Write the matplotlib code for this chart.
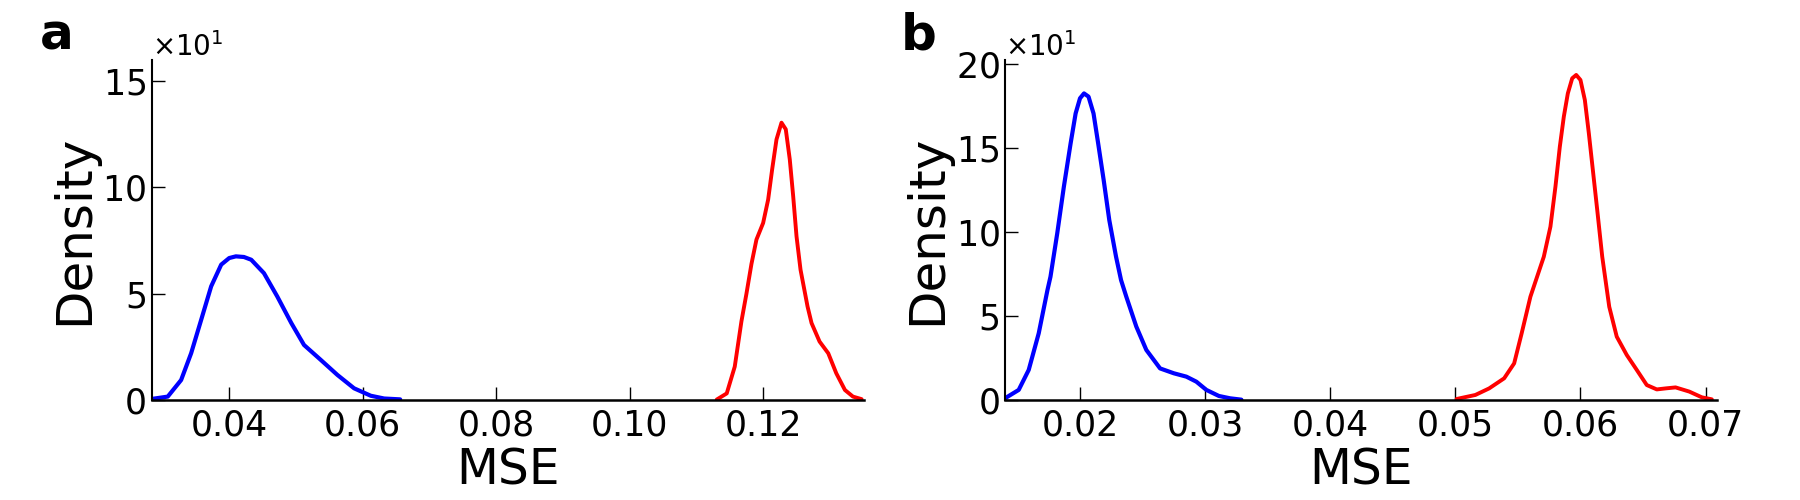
import matplotlib
matplotlib.use("Agg")
import matplotlib.pyplot as plt

a_blue_x = [0.0284, 0.0308, 0.0328, 0.0343, 0.0358, 0.0373, 0.0388, 0.0400, 0.0410,
            0.0422, 0.0433, 0.0452, 0.0472, 0.0493, 0.0512, 0.0537, 0.0562, 0.0587,
            0.0612, 0.0632, 0.0656]
a_blue_y = [0.5, 1.6, 9.4, 22.0, 37.7, 53.5, 63.7, 66.8, 67.6,
            67.3, 66.0, 59.7, 48.7, 36.2, 25.9, 18.9, 11.8, 5.5,
            2.0, 0.7, 0.3]
a_red_x = [0.1130, 0.1145, 0.1157, 0.1167, 0.11745, 0.1182, 0.11895, 0.11995, 0.1207,
           0.1213, 0.12195, 0.1227, 0.12334, 0.12394, 0.12445, 0.12495, 0.12555, 0.1266,
           0.1272, 0.1284, 0.1297, 0.1309, 0.1322, 0.1334, 0.1347]
a_red_y = [0.2, 3.1, 15.7, 37.0, 50.0, 64.0, 75.5, 83.3, 94.3,
           108.5, 122.6, 130.5, 127.4, 113.2, 95.9, 77.0, 61.3, 44.0,
           36.2, 27.5, 22.0, 12.6, 4.7, 1.6, 0.4]

# panel b
b_blue_x = [0.0140, 0.0151, 0.0159, 0.0167, 0.0174, 0.01764, 0.01818, 0.01871, 0.01925,
            0.01965, 0.0200, 0.02032, 0.02068, 0.02108, 0.02145, 0.02189, 0.02234, 0.02288,
            0.02328, 0.0237, 0.0245, 0.0253, 0.0264, 0.0275, 0.0285, 0.0293, 0.0301,
            0.0311, 0.0320, 0.0329]
b_blue_y = [1.0, 6.0, 17.9, 39.7, 65.5, 73.4, 99.2, 127.0, 152.8,
            170.6, 179.6, 182.5, 180.6, 170.6, 152.8, 131.0, 107.1, 85.3,
            71.4, 61.5, 43.7, 29.8, 18.8, 15.9, 13.9, 10.9, 6.0,
            2.4, 1.0, 0.2]
b_red_x = [0.0501, 0.0516, 0.0527, 0.0539, 0.0547, 0.0553, 0.0560, 0.0568, 0.05707,
           0.05760, 0.0580, 0.05835, 0.05867, 0.05899, 0.05934, 0.05966, 0.0600, 0.06035,
           0.06067, 0.06099, 0.06134, 0.06174, 0.0623, 0.0629, 0.0637, 0.0645, 0.0653,
           0.0661, 0.0668, 0.0676, 0.0687, 0.0697, 0.0705]
b_red_y = [0.6, 3.0, 6.9, 12.9, 21.8, 39.7, 61.5, 79.3, 85.3,
           103.2, 127.0, 150.8, 168.7, 182.5, 191.5, 193.5, 190.5, 178.6,
           158.7, 136.9, 113.1, 85.3, 55.5, 37.7, 26.8, 17.9, 8.9,
           6.3, 6.9, 7.5, 5.0, 1.6, 0.4]

panels = [
    ("a", a_blue_x, a_blue_y, a_red_x, a_red_y, (0.0284, 0.1350), 160,
     [0, 50, 100, 150],
     [0.04, 0.06, 0.08, 0.10, 0.12], ["0.04", "0.06", "0.08", "0.10", "0.12"]),
    ("b", b_blue_x, b_blue_y, b_red_x, b_red_y, (0.0140, 0.0709), 202.4,
     [0, 50, 100, 150, 200],
     [0.02, 0.03, 0.04, 0.05, 0.06, 0.07], ["0.02", "0.03", "0.04", "0.05", "0.06", "0.07"]),
]

plt.rcParams['font.family'] = ['DejaVu Sans']
fig = plt.figure(figsize=(18, 5), dpi=100)

lefts = [0.0843, 0.5583]
tag_x = [0.022, 0.5006]
for left, tx, (tag, bx, by, rx, ry, xlim, ymax, yt, xt, xtl) in zip(lefts, tag_x, panels):
    ax = fig.add_axes([left, 0.2, 0.3955, 0.68])
    ax.plot(bx, by, color="blue", lw=3, solid_capstyle="round")
    ax.plot(rx, ry, color="red", lw=2.8, solid_capstyle="round")
    ax.set_xlim(*xlim)
    ax.set_ylim(0, ymax)
    ax.set_xticks(xt)
    ax.set_xticklabels(xtl)
    ax.set_yticks(yt)
    ax.ticklabel_format(axis="y", style="sci", scilimits=(1, 1), useMathText=True)
    ax.yaxis.get_offset_text().set_fontsize(20)
    for s in ["top", "right"]:
        ax.spines[s].set_visible(False)
    ax.spines["left"].set_linewidth(1.5)
    ax.spines["bottom"].set_linewidth(1.8)
    ax.tick_params(direction="in", length=9.5, width=1, labelsize=25)
    ax.tick_params(axis="x", pad=6)
    ax.tick_params(axis="y", pad=4)
    ax.set_xlabel("MSE", fontsize=35, labelpad=3)
    ax.set_ylabel("Density", fontsize=36, labelpad=3)
    fig.text(tx, 0.9, tag, fontsize=36, fontweight="bold", ha="left", va="baseline")

fig.savefig("out.png", dpi=100)
